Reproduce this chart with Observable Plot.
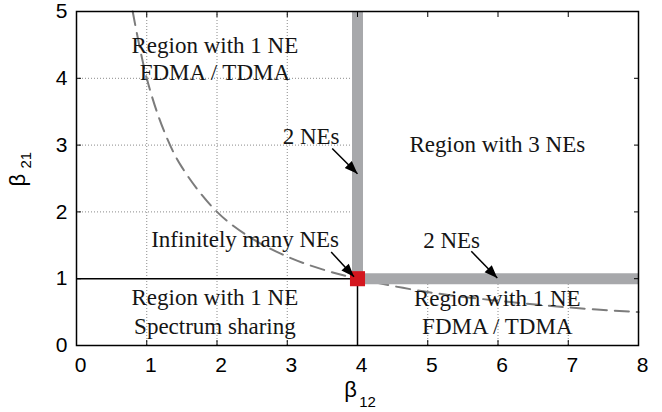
<!DOCTYPE html>
<html>
<head>
<meta charset="utf-8">
<script src="https://cdn.jsdelivr.net/npm/d3@7"></script>
<script src="https://cdn.jsdelivr.net/npm/@observablehq/plot@0.6"></script>
<style>
  html, body { margin: 0; padding: 0; background: white; }
</style>
</head>
<body>
<div id="chart"></div>
<script>
// ---- data ----
const xTicks = [0, 1, 2, 3, 4, 5, 6, 7, 8];
const yTicks = [0, 1, 2, 3, 4, 5];
const xDomain = [0, 8];
const yDomain = [0, 5];
const critX = 4;   // beta12 threshold
const critY = 1;   // beta21 threshold

// dashed boundary curve
const curveX = [0.8, 1, 1.25, 1.5, 2, 2.5, 3, 3.5, 4, 5, 6, 7, 8];
const curveY = [5, 4, 3.2, 2.67, 2, 1.6, 1.33, 1.14, 1, 0.8, 0.67, 0.57, 0.5];

// annotation texts and anchor positions (data units)
const labelText = ["Region with 1 NE", "FDMA / TDMA", "2 NEs", "Region with 3 NEs",
  "Infinitely many NEs", "2 NEs", "Region with 1 NE", "Spectrum sharing",
  "Region with 1 NE", "FDMA / TDMA"];
const labelX = [1.97, 1.97, 3.34, 5.99, 2.4, 5.34, 1.97, 1.97, 5.99, 5.99];
const labelY = [4.49, 4.08, 3.13, 3.0, 1.59, 1.57, 0.72, 0.29, 0.70, 0.28];

// arrows: start -> tip
const arrowX1 = [3.64, 3.625, 5.62];
const arrowY1 = [2.95, 1.40, 1.41];
const arrowX2 = [4.0, 3.95, 5.99];
const arrowY2 = [2.57, 1.03, 1.01];

// ---- build ----
const curve = curveX.map((x, i) => ({x, y: curveY[i]}));
const labels = labelText.map((t, i) => ({t, x: labelX[i], y: labelY[i]}));
const arrows = arrowX1.map((x1, i) => ({x1, y1: arrowY1[i], x2: arrowX2[i], y2: arrowY2[i]}));
// for the filled heads: extend the start backwards so the head isn't capped by length
const heads = arrows.map(a => ({x1: a.x2 - 4 * (a.x2 - a.x1), y1: a.y2 - 4 * (a.y2 - a.y1), x2: a.x2, y2: a.y2}));

const barColor = "#a7a8ab";
const gridStyle = {stroke: "#8a8a8a", strokeOpacity: 1, strokeWidth: 1, strokeDasharray: "1,2"};
const intFmt = d3.format("d");

const chart = Plot.plot({
  width: 662,
  height: 412,
  marginLeft: 76,
  marginRight: 24,
  marginTop: 11,
  marginBottom: 67,
  x: {domain: xDomain},
  y: {domain: yDomain},
  style: {fontFamily: "Liberation Sans, Arial, sans-serif", background: "white", color: "black"},
  marks: [
    Plot.gridX(xTicks.filter(v => v > xDomain[0] && v < xDomain[1]), gridStyle),
    Plot.gridY(yTicks.filter(v => v > critY && v < yDomain[1]), gridStyle),
    // region with 3 NEs has no grid
    Plot.rect([0], {x1: critX, x2: xDomain[1], y1: critY, y2: yDomain[1], fill: "white"}),
    // dashed boundary
    Plot.line(curve, {x: "x", y: "y", curve: "catmull-rom", stroke: "#7c7c7c", strokeWidth: 2, strokeDasharray: "14,8"}),
    // thin black boundaries
    Plot.ruleY([critY], {x1: xDomain[0], x2: critX, stroke: "black", strokeWidth: 1.5}),
    Plot.ruleX([critX], {y1: yDomain[0], y2: critY, stroke: "black", strokeWidth: 1.5}),
    // thick gray 2-NE lines
    Plot.ruleX([critX], {y1: critY, y2: yDomain[1], stroke: barColor, strokeWidth: 11}),
    Plot.ruleY([critY], {x1: critX, x2: xDomain[1], stroke: barColor, strokeWidth: 11}),
    // infinitely many NEs point
    Plot.dot([[critX, critY]], {x: d => d[0], y: d => d[1], symbol: "square", r: 8.5, fill: "#d4161e", stroke: "none"}),
    // arrows
    Plot.link(arrows, {x1: "x1", y1: "y1", x2: "x2", y2: "y2", stroke: "black", strokeWidth: 1.5}),
    Plot.arrow(heads, {x1: "x1", y1: "y1", x2: "x2", y2: "y2", stroke: "none", fill: "black", strokeWidth: 1.5, headLength: 14, headAngle: 42, bend: 0}),
    // annotations
    Plot.text(labels, {x: "x", y: "y", text: "t", fontFamily: "Liberation Serif, Times New Roman, serif", fontSize: 23, fill: "#151515", textAnchor: "middle", lineAnchor: "middle"}),
    // axes
    Plot.axisX(xTicks, {anchor: "bottom", tickSize: 0, tickPadding: 12, fontSize: 21, dx: 4, tickFormat: intFmt, label: null}),
    Plot.axisX(xTicks, {anchor: "bottom", tickSize: -5, tickFormat: () => "", label: null}),
    Plot.axisX(xTicks, {anchor: "top", tickSize: -5, tickFormat: () => "", label: null}),
    Plot.axisY(yTicks, {anchor: "left", tickSize: 0, tickPadding: 9, fontSize: 21, tickFormat: intFmt, label: null}),
    Plot.axisY(yTicks, {anchor: "left", tickSize: -5, tickFormat: () => "", label: null}),
    Plot.axisY(yTicks, {anchor: "right", tickSize: -5, tickFormat: () => "", label: null}),
    // axis titles with subscripts
    Plot.text(["β"], {frameAnchor: "bottom", fontSize: 22, dx: -7, dy: 44, lineAnchor: "middle"}),
    Plot.text(["12"], {frameAnchor: "bottom", fontSize: 15, dx: 10, dy: 57, lineAnchor: "middle"}),
    Plot.text(["β"], {frameAnchor: "left", fontSize: 22, rotate: -90, dx: -59, dy: 8, lineAnchor: "middle"}),
    Plot.text(["21"], {frameAnchor: "left", fontSize: 15, rotate: -90, dx: -50, dy: -10, lineAnchor: "middle"}),
    Plot.frame({stroke: "black", strokeWidth: 1.5})
  ]
});
document.getElementById("chart").appendChild(chart);
</script>
</body>
</html>
